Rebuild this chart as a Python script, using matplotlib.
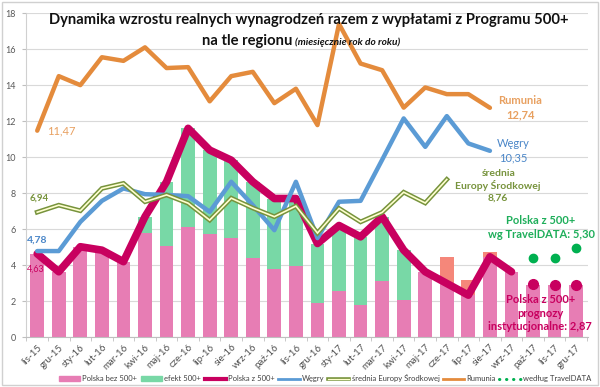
import matplotlib
matplotlib.use('Agg')
import matplotlib.pyplot as plt
from matplotlib.lines import Line2D
from matplotlib.patches import Patch, Rectangle
import numpy as np

plt.rcParams['font.family'] = ['Lato', 'DejaVu Sans']

miesiace = ['lis-15', 'gru-15', 'sty-16', 'lut-16', 'mar-16', 'kwi-16', 'maj-16', 'cze-16',
            'lip-16', 'sie-16', 'wrz-16', 'paź-16', 'lis-16', 'gru-16', 'sty-17', 'lut-17',
            'mar-17', 'kwi-17', 'maj-17', 'cze-17', 'lip-17', 'sie-17', 'wrz-17', 'paź-17',
            'lis-17', 'gru-17']

# slupki
polska_bez = [4.63, 3.63, 5.02, 4.83, 4.19, 5.76, 5.07, 6.09, 5.72, 5.52, 4.41, 3.81, 3.94,
              1.87, 2.56, 1.78, 3.13, 2.06, 3.63, 2.98, 2.33, 4.46, 3.63, 2.87, 2.87, 2.87]
efekt = [0, 0, 0, 0, 0, 0.93, 3.56, 5.51, 4.67, 4.31, 4.22, 3.89, 3.76,
         3.33, 3.64, 3.79, 3.56, 2.77, 0, 0, 0, 0, 0, 0, 0, 0]
inne = [0] * 19 + [1.48, 0.82, 0.28, 0, 0, 0, 0]

# linie
polska_z = [4.63, 3.63, 5.02, 4.83, 4.19, 6.69, 8.63, 11.6, 10.39, 9.83, 8.63, 7.7, 7.7,
            5.2, 6.2, 5.57, 6.69, 4.83, 3.63, 2.98, 2.33, 4.46, 3.63]
wegry = [4.78, 4.78, 6.4, 7.57, 8.26, 7.94, 7.9, 7.83, 6.96, 8.63, 7.33, 5.94, 8.63,
         5.5, 7.52, 7.57, 9.85, 12.15, 10.57, 12.28, 10.76, 10.35]
srednia = [6.94, 7.33, 7.02, 8.26, 8.54, 7.52, 7.9, 7.44, 6.5, 7.72, 7.17, 6.69, 7.28,
           5.78, 7.15, 6.4, 6.93, 8.05, 7.45, 8.76]
rumunia = [11.47, 14.5, 14.0, 15.55, 15.35, 16.1, 14.95, 15.0, 13.1, 14.5, 14.74, 13.0, 13.8,
           11.78, 17.4, 15.2, 14.83, 12.75, 13.87, 13.5, 13.5, 12.74]
prognozy = [2.97, 2.87, 2.87]
travel = [4.37, 4.37, 4.96]

c_pink = '#E77DB4'
c_green = '#78D8A6'
c_salmon = '#F5877A'
c_crimson = '#C8005F'
c_blue = '#5B9BD5'
c_olive = '#77933C'
c_orange = '#E48B3C'
c_dots = '#00B050'

x = np.arange(len(miesiace))

fig = plt.figure(figsize=(6, 3.87), dpi=100)
ax = fig.add_axes([0.043, 0.129, 0.937, 0.837])

w = 0.64
ax.bar(x, polska_bez, w, color=c_pink, zorder=2)
ax.bar(x, efekt, w, bottom=polska_bez, color=c_green, zorder=2)
ax.bar(x, inne, w, bottom=np.add(polska_bez, efekt), color=c_salmon, zorder=2)

ax.plot(x[:len(polska_z)], polska_z, color=c_crimson, lw=5.5, solid_capstyle='round',
        solid_joinstyle='round', zorder=3)
ax.plot(x[:len(wegry)], wegry, color=c_blue, lw=3.2, solid_capstyle='round',
        solid_joinstyle='round', zorder=4)
ax.plot(x[:len(srednia)], srednia, color=c_olive, lw=3.4, solid_joinstyle='miter', zorder=5)
ax.plot(x[:len(srednia)], srednia, color='#FFFFD0', lw=1.2, solid_joinstyle='miter', zorder=5.1)
ax.plot(x[:len(rumunia)], rumunia, color=c_orange, lw=3.2, solid_capstyle='round',
        solid_joinstyle='round', zorder=6)
ax.plot(x[23:], prognozy, 'o', color=c_crimson, ms=7, zorder=6)
ax.plot(x[23:], travel, 'o', color=c_dots, ms=6, zorder=6)

ax.set_xlim(-0.53, 25.55)
ax.set_ylim(0, 18)
ax.set_yticks(range(0, 19, 2))
ax.yaxis.grid(True, color='#D9D9D9', lw=0.8, zorder=0)
ax.set_axisbelow(True)
for s in ['top', 'right']:
    ax.spines[s].set_visible(False)
ax.spines['left'].set_color('#D0D0D0')
ax.spines['bottom'].set_color('#BFBFBF')
ax.tick_params(axis='y', labelsize=6.5, labelcolor='#595959', length=3, color='#BFBFBF', pad=4)
ax.set_xticks(x)
ax.set_xticklabels(miesiace, rotation=45, ha='right', rotation_mode='anchor',
                   fontsize=7, color='#505050')
ax.tick_params(axis='x', length=0, pad=4)
ax.set_xticks(np.arange(-0.5, 25.6, 1), minor=True)
ax.tick_params(axis='x', which='minor', length=3, color='#BFBFBF')

# etykiety
ax.annotate('11,47', (x[0], rumunia[0]), xytext=(7, 0), textcoords='offset points',
            ha='left', va='center', fontsize=8, color='#E8A060')
ax.annotate('6,94', (x[0], srednia[0]), xytext=(-5.5, 10), textcoords='offset points',
            ha='left', va='center', fontsize=7, color=c_olive, fontweight='bold')
ax.annotate('4,78', (x[0], wegry[0]), xytext=(-7.5, 8), textcoords='offset points',
            ha='left', va='center', fontsize=7.5, color='#4A86C8', fontweight='bold')
ax.annotate('4,63', (x[0], polska_z[0]), xytext=(-7.5, -11), textcoords='offset points',
            ha='left', va='center', fontsize=6.5, color=c_crimson)
ax.annotate('Rumunia\n12,74', (x[len(rumunia) - 1], rumunia[-1]), xytext=(22, 0),
            textcoords='offset points', ha='center', va='center', fontsize=8,
            color='#E8A060', fontweight='bold', linespacing=1.3)
ax.annotate('Węgry\n10,35', (x[len(wegry) - 1], wegry[-1]), xytext=(17, 0),
            textcoords='offset points', ha='center', va='center', fontsize=8,
            color='#4A86C8', linespacing=1.3)
ax.annotate('średnia\nEuropy Środkowej\n8,76', (x[len(srednia) - 1], srednia[-1]),
            xytext=(37, -4.5), textcoords='offset points', ha='center', va='center',
            fontsize=7.5, color=c_olive, fontweight='bold', linespacing=1.3)
ax.text(23.37, 6.11, 'Polska z 500+\nwg TravelDATA: 5,30', ha='center', va='center',
        fontsize=8, color='#1EAE5A', fontweight='bold', linespacing=1.35, zorder=7)
ax.text(23.33, 1.33, 'Polska z 500+\nprognozy\ninstytucjonalne: 2,87', ha='center',
        va='center', fontsize=8, color=c_crimson, fontweight='bold', linespacing=1.3, zorder=7)

# tytul
fig.text(0.515, 0.949, 'Dynamika wzrostu realnych wynagrodzeń razem z wypłatami z Programu 500+',
         ha='center', va='center', fontsize=10.6, fontweight='bold', color='#111111')
t1 = fig.text(0.336, 0.894, 'na tle regionu', ha='left', va='center', fontsize=10.6,
              fontweight='bold', color='#111111')
fig.canvas.draw()
bb = t1.get_window_extent().transformed(fig.transFigure.inverted())
fig.text(bb.x1 + 0.005, 0.892, '(miesięcznie rok do roku)', ha='left', va='center',
         fontsize=7.3, fontweight='bold', fontstyle='italic', color='#111111')

# legenda
handles = [Patch(color=c_pink), Patch(color=c_green),
           Line2D([], [], color=c_crimson, lw=3),
           Line2D([], [], color=c_blue, lw=2),
           (Line2D([], [], color=c_olive, lw=2.6), Line2D([], [], color='#FFFFD0', lw=0.9)),
           Line2D([], [], color=c_orange, lw=2),
           Line2D([], [], color=c_dots, lw=2.2, ls=(0, (0.1, 2.2)), dash_capstyle='round')]
labels = ['Polska bez 500+', 'efekt 500+', 'Polska z 500+', 'Węgry',
          'średnia Europy Środkowej', 'Rumunia', 'według TravelDATA']
fig.legend(handles, labels, loc='lower right', bbox_to_anchor=(0.997, -0.005), ncol=7,
           frameon=False, fontsize=5.5, handlelength=2.8, handleheight=0.6,
           handletextpad=0.3, columnspacing=0.45, labelcolor='#404040')

fig.add_artist(Rectangle((0.004, 0.004), 0.992, 0.992, transform=fig.transFigure,
                         fill=False, edgecolor='#D0D0D0', lw=1))

fig.savefig('out.png', dpi=100)
